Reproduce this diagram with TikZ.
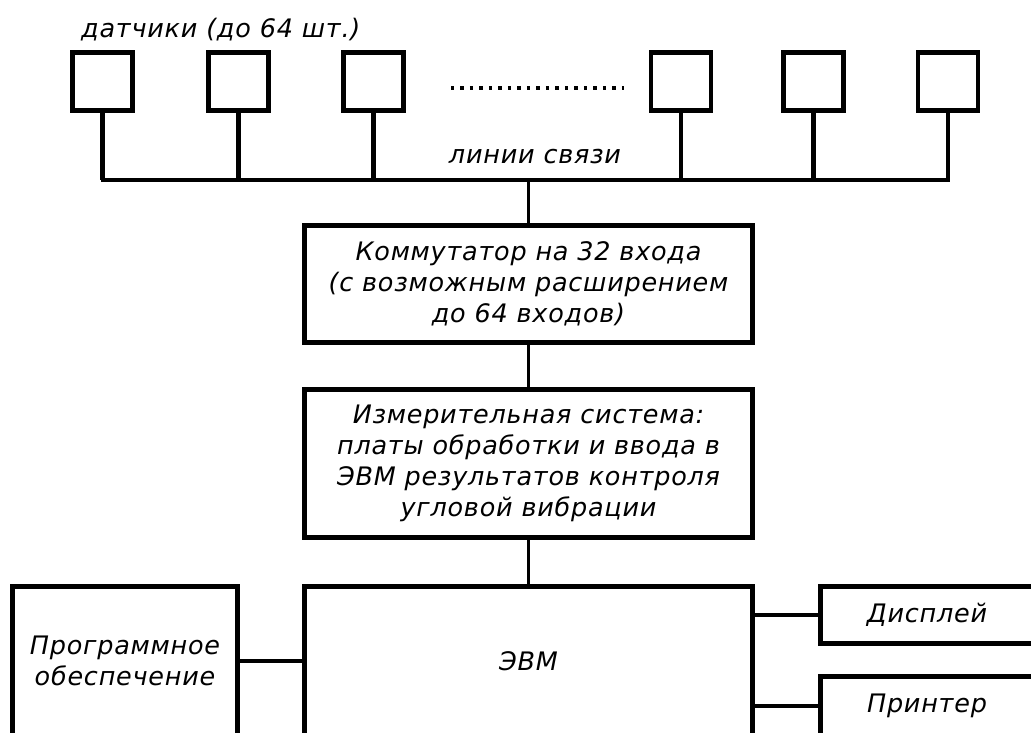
\documentclass[tikz,border=0pt]{standalone}
\usepackage{fontspec}
\newfontfamily\schemefont[LetterSpace=3]{DejaVu Sans}

\begin{document}
\begin{tikzpicture}[
  x=0.02cm,
  y=-0.02cm,
  font=\schemefont\itshape\fontsize{14.5}{17.6}\selectfont,
  sensor/.style={
    rectangle,
    draw,
    line width=2.8pt,
    minimum width=1.2cm,
    minimum height=1.16cm,
    inner sep=0pt
  },
  block/.style={
    rectangle,
    draw,
    line width=2.8pt,
    align=center,
    inner sep=0pt
  },
  lead/.style={line width=2.4pt},
  bus/.style={line width=1.8pt, line cap=rect},
  link/.style={line width=1.8pt},
  dots/.style={line width=2.3pt, dash pattern=on 1.9pt off 3.5pt}
]
\useasboundingbox (0,0) rectangle (1031,733);
\clip (0,0) rectangle (1031,733);

\node[anchor=west] (title) at (75,30) {датчики (до 64 шт.)};

\node[sensor] (s1) at (102.5,81.5) {};
\node[sensor] (s2) at (238.5,81.5) {};
\node[sensor] (s3) at (373.5,81.5) {};
\node[sensor] (s4) at (681,81.5) {};
\node[sensor] (s5) at (813.5,81.5) {};
\node[sensor] (s6) at (948,81.5) {};

\coordinate (dl) at (451,88);
\coordinate (dr) at (624,88);
\node (lines) at (535,157) {линии связи};
\coordinate (hub) at (528.5,180);

\node[block, minimum width=8.96cm, minimum height=2.34cm] (komm) at (528.5,284)
  {Коммутатор на 32 входа\\(с возможным расширением\\до 64 входов)};
\node[block, minimum width=8.96cm, minimum height=2.96cm] (meas) at (528.5,463.5)
  {Измерительная система:\\платы обработки и ввода в\\ЭВМ результатов контроля\\угловой вибрации};
\node[block, minimum width=8.96cm, minimum height=2.98cm] (evm) at (528.5,661) {ЭВМ};
\node[block, minimum width=4.5cm, minimum height=2.98cm] (prog) at (125,661)
  {Программное\\обеспечение};
\node[block, minimum width=4.26cm, minimum height=1.14cm] (disp) at (927,615) {Дисплей};
\node[block, minimum width=4.26cm, minimum height=1.18cm] (prn) at (927,706) {Принтер};

\draw[dots] (dl) -- (dr);
\draw[lead] (s1.south) -- (s1.south |- hub);
\draw[lead] (s2.south) -- (s2.south |- hub);
\draw[lead] (s3.south) -- (s3.south |- hub);
\draw[lead] (s4.south) -- (s4.south |- hub);
\draw[lead] (s5.south) -- (s5.south |- hub);
\draw[lead] (s6.south) -- (s6.south |- hub);
\draw[bus] (s1.south |- hub) -- (s6.south |- hub);
\draw[link] (hub) -- (komm.north);
\draw[link] (komm) -- (meas);
\draw[link] (meas) -- (evm);
\draw[lead] (prog.east) -- (prog.east -| evm.west);
\draw[lead] (evm.east |- disp.west) -- (disp.west);
\draw[lead] (evm.east |- prn.west) -- (prn.west);
\end{tikzpicture}
\end{document}
